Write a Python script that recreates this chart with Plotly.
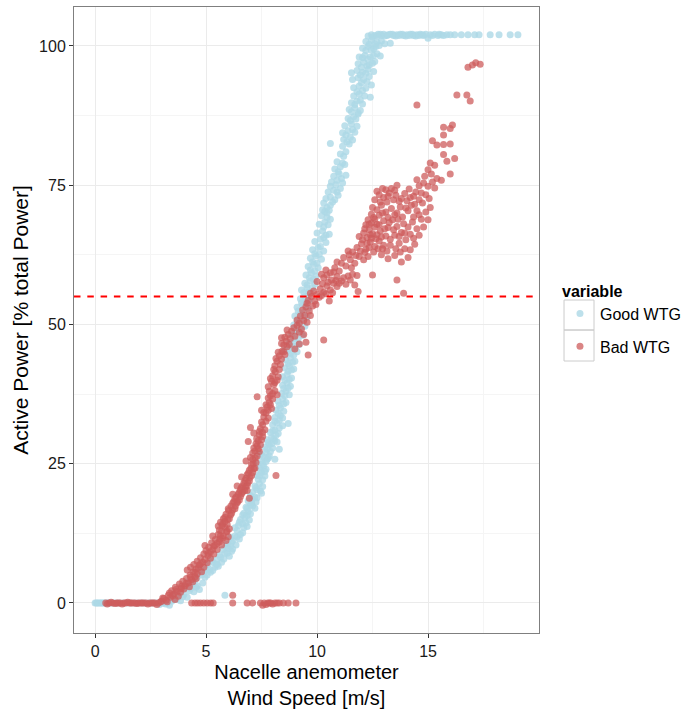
import plotly.graph_objects as go

# ---------------- data ----------------
series_names = ["Good WTG", "Bad WTG"]
threshold = 55

# Good WTG: points sitting on zero power
good_zero = [(0.0, 0), (0.06, 0), (0.12, 0), (0.18, 0), (0.25, 0), (0.3, 0), (0.37, 0), (0.43, 0),
             (0.5, 0), (0.58, 0), (0.66, 0), (0.75, 0), (0.85, 0), (0.98, 0), (1.1, 0), (1.27, 0),
             (1.45, 0), (1.6, 0), (1.78, 0), (1.93, 0), (2.1, 0), (2.25, 0), (2.42, 0), (2.55, 0),
             (2.68, 0), (2.8, 0), (2.9, -0.3), (3.0, 0), (3.1, 0), (3.18, -0.2), (3.26, 0),
             (3.35, -0.4), (5.85, 1.4)]

# Good WTG: power curve ramp
good_ramp = [(3.35, 0.5), (3.5, 0.9), (3.65, 0.6), (3.8, 1.4), (3.95, 1.1), (3.6, 1.7),
             (3.95, 2.4), (4.1, 2.9), (4.25, 2.2), (4.4, 3.4), (4.55, 2.8), (4.2, 3.8),
             (4.6, 4.5), (4.8, 5.0), (4.95, 4.6), (4.75, 5.9), (5.0, 6.1), (5.2, 5.5), (5.4, 6.4), (5.1, 6.9),
             (5.3, 7.4), (5.5, 7.8), (5.7, 7.3), (5.6, 8.6), (5.85, 8.9), (6.05, 8.4), (5.75, 9.6), (6.0, 9.8), (6.15, 9.3),
             (5.95, 10.6), (6.15, 10.9), (6.35, 10.4), (6.1, 11.8), (6.3, 12.0), (6.5, 11.5), (6.65, 12.6), (6.4, 13.0),
             (6.45, 13.9), (6.65, 14.2), (6.85, 13.7), (6.55, 15.0), (6.75, 15.3), (6.95, 14.9), (6.7, 16.1), (6.9, 16.4),
             (6.8, 17.2), (7.0, 17.6), (7.2, 17.0), (6.9, 18.3), (7.1, 18.6), (7.25, 18.1), (7.0, 19.3),
             (7.1, 19.9), (7.3, 20.3), (7.5, 19.7), (7.2, 21.0), (7.4, 21.4), (7.55, 20.9), (7.35, 22.2),
             (7.3, 22.9), (7.5, 23.4), (7.65, 22.8), (7.4, 24.3), (7.6, 24.6), (7.7, 24.0), (7.5, 25.5), (7.75, 25.8),
             (7.5, 26.6), (7.7, 27.0), (7.85, 26.4), (7.65, 28.0), (7.85, 28.4), (8.0, 27.8), (7.75, 29.3), (7.95, 29.7), (8.1, 29.1),
             (7.9, 30.6), (8.1, 31.0), (8.25, 30.4), (8.0, 32.0), (8.2, 32.3), (8.45, 31.8), (8.7, 32.2), (8.1, 33.3), (8.35, 33.6), (8.1, 25.8),
             (8.15, 34.6), (8.35, 35.0), (8.5, 34.4), (8.25, 36.2), (8.45, 36.6), (8.6, 36.0), (8.4, 37.6), (8.6, 38.0), (8.75, 37.4),
             (8.45, 39.1), (8.65, 39.5), (8.8, 38.9),
             (8.45, 40.6), (8.65, 41.0), (8.85, 40.4), (8.55, 42.2), (8.75, 42.6), (8.95, 42.0), (8.6, 43.6), (8.8, 44.0), (9.0, 43.4),
             (8.7, 45.3), (8.9, 45.7), (9.1, 45.1), (8.75, 46.7), (9.0, 47.0), (9.2, 46.4),
             (8.85, 48.2), (9.1, 48.6), (9.35, 48.0), (8.95, 49.9), (9.2, 50.3), (9.45, 49.7), (9.0, 51.5), (9.25, 51.9), (9.55, 51.3),
             (9.1, 53.1), (9.35, 53.5), (9.6, 52.9), (9.25, 54.6), (9.45, 55.0), (9.65, 54.4), (9.3, 56.2), (9.55, 56.6),
             (9.45, 57.4), (9.7, 57.8), (9.9, 57.2), (9.5, 58.9), (9.75, 59.3), (9.95, 58.7), (9.6, 60.4), (9.85, 60.8), (10.05, 60.2),
             (9.7, 61.9), (9.95, 62.3), (10.2, 61.7),
             (9.8, 63.4), (10.05, 63.8), (10.3, 63.2), (9.9, 64.9), (10.15, 65.3), (10.4, 64.7), (10.55, 66.2), (10.0, 66.4),
             (10.25, 66.8), (10.5, 67.9), (10.1, 68.0), (10.35, 68.4), (10.6, 68.9), (10.2, 69.5), (10.45, 70.0),
             (10.25, 70.6), (10.45, 71.0), (10.6, 71.4), (10.3, 71.8),
             (10.4, 72.6), (10.6, 72.9), (10.8, 72.4), (10.95, 73.2), (10.5, 73.8), (10.75, 74.1), (11.05, 74.4), (10.6, 74.8),
             (10.65, 75.6), (10.9, 75.9), (11.15, 75.4), (10.75, 76.6), (11.0, 77.0), (11.3, 76.8), (10.8, 77.9), (11.05, 78.3),
             (11.25, 78.7), (10.9, 79.2),
             (10.6, 82.5), (11.05, 80.6), (11.3, 81.0), (11.15, 82.0), (11.45, 82.4), (11.2, 83.2), (11.5, 83.6),
             (11.15, 84.4), (11.4, 84.8), (11.7, 84.5), (11.25, 85.7), (11.55, 86.0), (11.8, 85.6), (11.4, 87.0), (11.65, 87.3), (11.85, 87.8),
             (11.45, 88.6), (11.7, 88.9), (11.95, 88.4), (11.55, 89.8), (11.8, 90.1), (12.05, 89.6), (11.65, 91.0), (11.9, 91.4),
             (12.15, 91.0), (12.4, 90.8),
             (11.65, 92.5), (11.9, 92.8), (12.2, 92.4), (12.45, 93.0), (11.6, 94.0), (11.85, 94.3), (12.1, 94.0), (12.35, 94.5),
             (11.55, 95.2), (11.8, 95.6), (12.05, 95.3), (12.3, 95.8), (12.55, 95.4),
             (11.85, 96.8), (12.1, 97.1), (12.35, 96.6), (12.6, 97.2), (11.9, 98.0), (12.15, 98.3), (12.4, 98.0), (12.7, 98.6), (12.85, 98.2),
             (12.05, 99.6), (12.3, 99.9), (12.55, 99.5), (12.8, 100.1), (13.05, 100.4), (12.2, 100.8), (12.45, 101.0), (12.7, 100.7), (13.3, 100.5)]

# Good WTG: additional readings inside the same band (denser parts)
good_ramp_more = [(3.45, 0.3), (3.7, 0.8), (3.85, 0.4), (4.0, 1.5), (4.15, 1.0), (4.3, 2.6), (4.45, 2.0), (4.6, 3.1),
                  (4.7, 2.4), (4.85, 3.6), (4.5, 4.1), (4.9, 5.4), (5.05, 5.0), (5.15, 6.0), (5.3, 5.8), (5.45, 7.0),
                  (5.55, 6.6), (5.65, 8.2), (5.8, 7.9), (5.95, 8.9), (5.9, 10.1), (6.1, 10.2), (6.2, 9.7), (5.5, 6.9), (5.25, 7.7),
                  (6.2, 11.2), (6.4, 11.9), (6.55, 12.3), (6.3, 13.5), (6.5, 14.5), (6.7, 13.5), (6.8, 14.4), (6.65, 15.8),
                  (6.85, 15.7), (7.0, 16.0), (6.85, 17.0), (7.1, 17.4), (7.05, 18.0), (7.2, 19.0), (7.3, 18.9), (7.25, 20.7),
                  (7.45, 20.1), (7.4, 22.8), (7.55, 22.1), (7.45, 23.8), (7.65, 23.6), (7.55, 25.0), (7.7, 25.4), (7.6, 26.2),
                  (7.8, 26.0), (7.75, 27.6), (7.9, 27.2), (7.8, 28.8), (7.95, 28.6), (8.05, 29.5), (8.2, 28.9), (7.4, 26.8),
                  (7.3, 25.0), (8.3, 27.6),
                  (8.0, 30.9), (8.15, 30.1), (8.3, 31.4), (8.1, 32.6), (8.3, 32.8), (8.25, 34.0), (8.45, 33.2), (8.3, 35.5),
                  (8.5, 35.7), (8.55, 37.2), (8.5, 38.5), (8.7, 38.6), (8.55, 40.0), (8.75, 40.1), (8.7, 41.6), (8.85, 41.8),
                  (8.7, 43.0), (8.9, 43.2), (8.8, 44.8), (8.95, 44.5), (8.85, 46.2), (9.05, 46.1), (8.95, 47.5), (9.15, 47.4),
                  (9.05, 49.0), (9.25, 49.1), (8.55, 45.5),
                  (9.1, 50.5), (9.3, 50.9), (9.15, 52.4), (9.4, 52.2), (9.3, 53.9), (9.5, 54.0), (9.4, 55.7), (9.6, 55.8),
                  (9.55, 57.1), (9.8, 56.6), (9.65, 58.4), (9.85, 58.1), (9.7, 59.8), (9.9, 59.6), (9.8, 61.2), (10.0, 61.0),
                  (9.9, 62.7), (10.1, 62.6), (10.15, 64.0), (10.3, 65.6),
                  (10.4, 66.0), (10.3, 67.5), (10.45, 69.2), (10.35, 70.3), (10.55, 70.5), (10.7, 72.0), (10.9, 73.8),
                  (10.85, 75.1), (11.1, 76.2), (10.95, 77.4), (11.15, 79.0), (11.2, 80.2), (11.35, 82.8), (11.6, 83.1),
                  (11.3, 84.0), (11.6, 85.0), (11.5, 86.6), (11.75, 86.9), (11.55, 88.2), (11.85, 88.0), (11.7, 89.5),
                  (11.95, 90.3), (11.8, 91.8), (12.05, 92.0), (12.0, 93.4), (12.25, 93.6), (11.95, 94.8), (12.2, 95.1),
                  (12.0, 96.2), (12.25, 96.4), (12.5, 96.9), (12.05, 97.9), (12.3, 97.6), (12.55, 98.3), (12.2, 99.2),
                  (12.45, 99.3), (12.65, 99.9), (12.35, 100.3), (12.6, 100.4), (12.9, 100.9)]

# Good WTG: rated-power plateau
good_plateau = [(12.3, 101.8), (12.45, 102.0), (12.6, 101.9), (12.75, 102.1), (12.9, 101.9), (13.0, 102.1), (13.15, 101.9),
                (13.3, 102.1), (13.45, 101.9), (13.6, 102.0), (13.75, 102.1), (13.9, 101.9), (14.05, 102.0), (14.2, 102.1),
                (14.35, 101.9), (14.5, 102.0), (14.65, 102.1), (14.8, 101.9), (15.0, 101.4), (15.1, 102.0), (15.3, 102.1),
                (15.45, 101.9), (15.6, 102.0), (15.85, 102.0), (16.2, 102.0), (16.5, 102.0), (16.8, 102.0), (17.1, 102.0),
                (17.3, 102.0), (17.8, 102.0), (18.2, 102.0), (18.7, 102.0), (19.05, 102.0),
                (12.5, 101.6), (12.7, 101.8), (12.85, 102.1), (13.05, 101.8), (13.2, 102.0), (13.4, 102.1), (13.55, 101.8),
                (13.7, 101.9), (13.85, 102.1), (14.0, 101.8), (14.15, 101.9), (14.3, 102.1), (14.45, 101.8), (14.6, 101.9),
                (14.75, 102.0), (14.9, 102.1), (15.2, 101.9), (15.5, 102.1), (15.7, 101.9), (16.0, 102.0)]

# Bad WTG: points sitting on zero power
bad_zero = [(0.48, 0), (0.55, -0.2), (0.63, 0), (0.72, 0.1), (0.8, 0), (0.9, -0.1), (0.97, 0), (1.05, 0), (1.14, 0),
            (1.22, -0.2), (1.3, 0), (1.38, 0), (1.47, 0.1), (1.55, 0), (1.62, 0), (1.7, 0), (1.8, 0), (1.88, -0.1),
            (1.95, 0), (2.05, 0), (2.12, 0), (2.2, 0), (2.3, 0), (2.38, -0.2), (2.46, 0), (2.55, 0), (2.62, 0), (2.7, 0),
            (2.78, -0.3), (2.86, 0), (2.95, 0.2), (4.35, 0), (4.5, 0), (4.62, 0), (4.75, 0), (4.9, 0), (5.05, 0), (5.2, 0),
            (5.32, 0), (6.2, 0), (6.2, 1.4), (6.85, 0), (7.1, 0), (7.45, 0), (7.55, -0.4), (7.62, 0), (7.7, -0.3),
            (7.78, 0), (7.85, 0), (7.92, 0), (8.0, -0.2), (8.1, 0), (8.2, 0), (8.3, 0), (8.48, 0), (8.7, 0), (9.05, 0)]

# Bad WTG: degraded power curve
bad_ramp = [(3.0, 0.3), (3.1, 0.8), (3.2, 0.5), (3.3, 1.4), (3.4, 1.0), (3.45, 2.2), (3.55, 1.6), (3.62, 2.8), (3.7, 2.1),
            (3.8, 3.4), (3.88, 2.6), (3.95, 3.9), (4.05, 3.1), (4.12, 4.4), (4.2, 3.6), (4.28, 5.0), (4.35, 4.2), (4.42, 5.6),
            (4.5, 4.7), (3.75, 1.2), (4.6, 5.2),
            (4.15, 5.9), (4.3, 6.4), (4.45, 6.9), (4.55, 6.1), (4.6, 7.5), (4.7, 6.8), (4.75, 8.1), (4.85, 7.3), (4.9, 8.8),
            (4.95, 10.3), (5.0, 9.4), (5.08, 8.5), (5.12, 10.0), (5.2, 9.2), (5.25, 10.8), (5.3, 12.0), (5.35, 10.2),
            (5.42, 11.4), (5.5, 10.7), (5.55, 12.3), (5.62, 11.5), (5.7, 12.9), (5.78, 12.0), (5.85, 13.6), (5.92, 12.8), (6.0, 11.9),
            (5.55, 13.8), (5.65, 14.5), (5.72, 13.9), (5.78, 15.1), (5.85, 14.6), (5.9, 15.9), (5.98, 15.0), (6.02, 16.6),
            (6.1, 15.8), (6.12, 17.4), (6.2, 16.7), (6.25, 18.2), (6.32, 17.4), (6.35, 19.0), (6.42, 18.2), (6.48, 19.8),
            (6.55, 19.1), (6.58, 20.7), (6.65, 19.9), (6.7, 21.5), (6.78, 20.8), (6.8, 22.4), (6.88, 21.6), (6.9, 23.3),
            (6.98, 22.5), (7.02, 24.2), (7.1, 23.4), (7.12, 25.0), (7.2, 24.2), (6.4, 21.0), (6.2, 19.5), (6.85, 20.2), (6.95, 18.8),
            (7.0, 26.1), (7.1, 26.9), (7.22, 26.0), (7.15, 27.8), (7.25, 28.6), (7.35, 27.7), (7.28, 29.5), (7.4, 30.2),
            (7.5, 29.3), (7.45, 31.3), (7.55, 32.0), (7.65, 31.1), (7.0, 31.5), (6.9, 29.0), (7.6, 33.4), (7.7, 34.1),
            (7.8, 33.2), (7.75, 35.2), (7.85, 36.0), (7.95, 34.9), (7.3, 37.0), (7.9, 37.2), (8.0, 36.6), (8.1, 38.1),
            (8.15, 22.9), (7.5, 34.6), (8.2, 37.4),
            (7.8, 38.8), (7.95, 39.8), (8.05, 39.2), (8.0, 40.8), (8.12, 41.5), (8.25, 40.6), (8.1, 42.6), (8.2, 43.4),
            (8.35, 42.8), (8.3, 44.4), (8.42, 45.2), (8.55, 44.6), (8.5, 46.3), (8.62, 47.0), (8.75, 46.4), (8.7, 48.2),
            (8.85, 48.8), (9.0, 47.9), (9.6, 44.5), (10.3, 47.2), (8.4, 47.6), (9.1, 49.8), (9.3, 49.2),
            (9.1, 50.8), (9.25, 51.5), (9.4, 50.7), (9.35, 52.6), (9.5, 53.2), (9.65, 52.4), (9.6, 54.3), (9.75, 55.0),
            (9.9, 54.2), (9.85, 56.0), (10.0, 55.4), (10.15, 56.4), (10.3, 55.8), (10.45, 56.9), (10.6, 56.2), (10.75, 57.4),
            (10.9, 56.8), (11.1, 57.8), (11.3, 57.2), (11.5, 58.0), (11.7, 57.1), (10.0, 57.7), (10.3, 58.4), (10.9, 58.6),
            (11.85, 55.9), (12.5, 58.9), (13.6, 58.0), (13.9, 55.6), (10.55, 54.2),
            (10.2, 59.0), (10.4, 59.8), (10.6, 59.3), (10.8, 60.2), (11.0, 59.6), (11.1, 61.0), (11.3, 60.5), (11.5, 61.6),
            (11.7, 61.0), (11.9, 62.2), (12.1, 61.6), (11.6, 63.0), (11.8, 63.8), (12.0, 64.5), (12.2, 63.5), (12.4, 64.8),
            (12.6, 64.0), (12.8, 65.0), (13.0, 64.2), (13.2, 61.8), (13.5, 62.4), (13.8, 61.2), (14.1, 62.0), (13.7, 64.6),
            (14.0, 65.2), (14.4, 64.4), (12.9, 62.5), (11.4, 63.2), (12.3, 62.2),
            (11.9, 65.8), (12.1, 66.4), (12.25, 65.6), (12.35, 67.0), (12.5, 66.3), (12.6, 67.5), (12.45, 68.2), (12.7, 68.0),
            (12.85, 66.8), (12.3, 68.8), (12.55, 69.2), (12.8, 69.6), (13.0, 68.6), (13.2, 67.4), (13.4, 68.8), (13.6, 67.6),
            (13.8, 66.5), (12.2, 67.9), (12.4, 66.1), (12.65, 65.4), (13.1, 70.2), (13.35, 70.8), (13.6, 70.0), (13.85, 69.3),
            (14.1, 70.4), (14.3, 68.4), (14.5, 67.2), (14.7, 68.9), (14.9, 70.2), (15.1, 71.0), (14.4, 71.6), (12.9, 71.4), (12.5, 71.0),
            (12.6, 72.4), (12.8, 73.3), (12.7, 73.9), (13.0, 72.8), (13.25, 73.6), (13.35, 74.4), (13.55, 73.2), (13.8, 72.6),
            (13.95, 73.5), (14.2, 72.8), (14.45, 73.8), (14.6, 74.9), (14.8, 75.4), (15.0, 74.8), (15.2, 75.6), (14.5, 76.0),
            (14.85, 76.6), (15.15, 77.0), (15.4, 76.2), (15.6, 75.9), (16.0, 77.0), (15.0, 77.8), (15.3, 78.6), (15.1, 79.0),
            (15.85, 79.3), (16.2, 79.8), (13.1, 74.2), (13.6, 75.0),
            (15.7, 80.5), (15.4, 82.2), (15.7, 82.3), (16.0, 82.4), (15.2, 83.0), (15.7, 84.0), (15.7, 85.4), (16.0, 85.2),
            (16.1, 85.8), (14.5, 89.4), (16.3, 91.2), (16.75, 91.2), (16.9, 90.1), (16.8, 96.2), (17.0, 96.6), (17.15, 97.0),
            (17.35, 96.7)]

# Bad WTG: additional readings inside the same band (denser parts)
bad_ramp_more = [(3.05, 0.9), (3.25, 0.2), (3.35, 1.8), (3.5, 1.3), (3.6, 0.6), (3.65, 2.4), (3.85, 1.9), (3.9, 3.0),
                 (4.0, 2.5), (4.1, 3.5), (4.25, 2.9), (4.3, 4.6), (4.4, 3.8), (4.5, 5.5), (4.55, 4.4), (4.65, 6.3),
                 (4.8, 5.6), (4.75, 7.0), (4.9, 6.4), (4.95, 7.8), (5.05, 7.2), (5.1, 8.9), (5.2, 8.0), (5.3, 9.6),
                 (5.35, 8.8), (5.4, 10.3), (5.5, 9.6), (5.6, 11.0), (5.7, 10.4), (5.75, 11.6), (5.9, 11.2), (5.65, 12.1),
                 (5.95, 12.9), (6.05, 13.3),
                 (5.6, 13.1), (5.75, 14.2), (5.95, 14.1), (6.05, 15.1), (5.85, 15.4), (6.15, 16.1), (6.0, 16.9), (6.3, 16.9),
                 (6.2, 17.9), (6.4, 18.0), (6.3, 18.7), (6.5, 18.5), (6.45, 19.5), (6.6, 19.6), (6.55, 20.3), (6.75, 20.2),
                 (6.65, 21.0), (6.85, 21.1), (6.75, 22.0), (6.95, 21.9), (6.85, 23.0), (7.05, 22.9), (6.95, 23.8), (7.15, 24.1),
                 (7.05, 24.9), (7.25, 25.2), (7.1, 25.8), (7.3, 26.4), (7.2, 27.3), (7.4, 27.2), (7.3, 28.2), (7.45, 28.4),
                 (7.35, 29.1), (7.55, 29.9), (7.4, 30.8), (6.6, 22.6), (6.8, 25.5), (7.15, 30.5),
                 (7.55, 30.6), (7.5, 32.5), (7.7, 32.6), (7.6, 34.2), (7.8, 34.6), (7.7, 35.6), (7.9, 35.6), (7.8, 36.8),
                 (8.0, 37.6), (7.85, 38.0), (8.1, 39.6), (7.9, 40.3), (8.2, 40.0), (8.05, 41.9), (8.3, 41.9), (8.15, 43.9),
                 (8.4, 43.8), (8.25, 45.0), (8.5, 45.1), (8.4, 46.6), (8.65, 46.0), (8.55, 47.7), (8.8, 47.5), (8.65, 49.0),
                 (8.95, 49.4), (9.2, 48.6), (9.4, 48.2), (9.5, 46.8), (9.2, 46.5), (9.0, 45.6),
                 (9.2, 50.2), (9.45, 51.6), (9.55, 50.4), (9.7, 51.6), (9.8, 53.3), (9.55, 53.8), (9.95, 53.6), (10.1, 54.9),
                 (9.7, 55.6), (10.2, 55.2), (10.4, 55.5), (10.25, 57.3), (10.5, 57.6), (10.65, 58.0), (10.7, 55.7),
                 (10.85, 57.9), (11.0, 57.4), (11.2, 58.4), (11.4, 58.7), (11.6, 59.0), (11.8, 58.8), (10.45, 58.9), (10.75, 59.4),
                 (10.9, 61.2), (11.2, 62.0), (11.45, 62.5), (11.55, 60.2), (11.75, 62.4), (11.95, 63.2), (12.15, 62.9),
                 (12.35, 63.8), (12.55, 63.0), (12.75, 63.6), (12.95, 63.6), (13.15, 63.2), (13.3, 64.2), (13.55, 63.6),
                 (13.75, 63.0), (13.95, 63.6), (14.2, 63.4), (12.05, 65.2), (12.25, 64.6), (12.45, 65.5), (12.7, 66.1),
                 (12.9, 65.7), (13.1, 65.9), (13.3, 65.3), (13.5, 66.0), (13.7, 65.8), (13.95, 66.4), (14.2, 66.2),
                 (14.35, 65.5), (14.6, 66.0), (12.15, 67.2), (12.35, 68.0), (12.6, 68.9), (12.8, 67.9), (13.05, 67.2),
                 (13.25, 68.3), (13.45, 67.0), (13.65, 68.9), (13.9, 68.1), (14.1, 67.5), (14.35, 69.3), (14.6, 69.7),
                 (14.8, 67.5), (15.0, 68.8), (12.45, 69.8), (12.7, 70.6), (12.95, 70.0), (13.2, 69.2), (13.5, 69.7),
                 (13.75, 71.1), (14.0, 70.9), (14.25, 71.4), (14.5, 70.4), (14.75, 71.8), (12.85, 72.0), (13.15, 72.0),
                 (13.45, 72.4), (13.7, 72.1), (14.05, 72.2), (14.35, 73.0), (14.6, 72.4), (14.9, 73.3), (15.05, 72.6),
                 (13.2, 73.0), (12.95, 74.4), (13.5, 74.1), (14.7, 73.6), (15.3, 74.5), (14.15, 74.3)]

x_ticks = [0, 5, 10, 15]
y_ticks = [0, 25, 50, 75, 100]

good_pts = good_zero + good_ramp + good_ramp_more + good_plateau
bad_pts = bad_zero + bad_ramp + bad_ramp_more
good_x = [p[0] for p in good_pts]
good_y = [p[1] for p in good_pts]
bad_x = [p[0] for p in bad_pts]
bad_y = [p[1] for p in bad_pts]

# ---------------- figure ----------------
FONT = "Liberation Sans, Arial, Helvetica, sans-serif"
fig = go.Figure()
fig.add_trace(go.Scatter(x=good_x, y=good_y, mode="markers", name=series_names[0],
                         legendgroup="g", marker=dict(size=7, color="#ADD8E6", opacity=0.8, line=dict(width=0))))
fig.add_trace(go.Scatter(x=bad_x, y=bad_y, mode="markers", name=series_names[1],
                         legendgroup="b", marker=dict(size=7, color="#CD5C5C", opacity=0.75, line=dict(width=0))))

fig.add_hline(y=threshold, line=dict(color="#FF0000", width=2, dash="6.5px,6.8px"))

axis_common = dict(showline=True, linecolor="#7f7f7f", linewidth=1, mirror=True,
                   ticks="outside", ticklen=4, tickcolor="#333333", tickwidth=1,
                   gridcolor="#ebebeb", gridwidth=1, zeroline=False, automargin=False,
                   tickfont=dict(family=FONT, size=16, color="#1a1a1a"))

fig.update_xaxes(range=[-0.95, 20.0], tickvals=x_ticks, **axis_common,
                 minor=dict(dtick=2.5, tick0=0, showgrid=True, gridcolor="#f5f5f5", ticks=""),
                 title=dict(text="Nacelle anemometer<br>Wind Speed [m/s]", standoff=5,
                            font=dict(family=FONT, size=20, color="#000000")))
fig.update_yaxes(range=[-5.4, 107.0], tickvals=y_ticks, **axis_common,
                 minor=dict(dtick=12.5, tick0=0, showgrid=True, gridcolor="#f5f5f5", ticks=""),
                 title=dict(text="Active Power [% total Power]", standoff=4,
                            font=dict(family=FONT, size=21, color="#000000")))

# legend key boxes (ggplot style), in plot-area paper coordinates
key_x0, key_x1 = 1.0538, 1.1183
key_rows = [(0.4840, 0.5319), (0.4345, 0.4840)]
for y0, y1 in key_rows:
    fig.add_shape(type="rect", xref="paper", yref="paper", x0=key_x0, x1=key_x1, y0=y0, y1=y1,
                  line=dict(color="#cccccc", width=1), fillcolor="rgba(0,0,0,0)", layer="below")

fig.update_layout(
    width=685, height=709,
    margin=dict(l=74, r=146, t=7, b=76),
    paper_bgcolor="white", plot_bgcolor="white",
    font=dict(family=FONT, color="#000000"),
    legend=dict(xref="container", yref="container", x=0.8175, xanchor="left", y=0.611, yanchor="top",
                title=dict(text="<b>variable</b>", font=dict(family=FONT, size=16)),
                font=dict(family=FONT, size=16), tracegroupgap=9, traceorder="grouped",
                bgcolor="rgba(0,0,0,0)"),
)

fig.write_html("out.html")
